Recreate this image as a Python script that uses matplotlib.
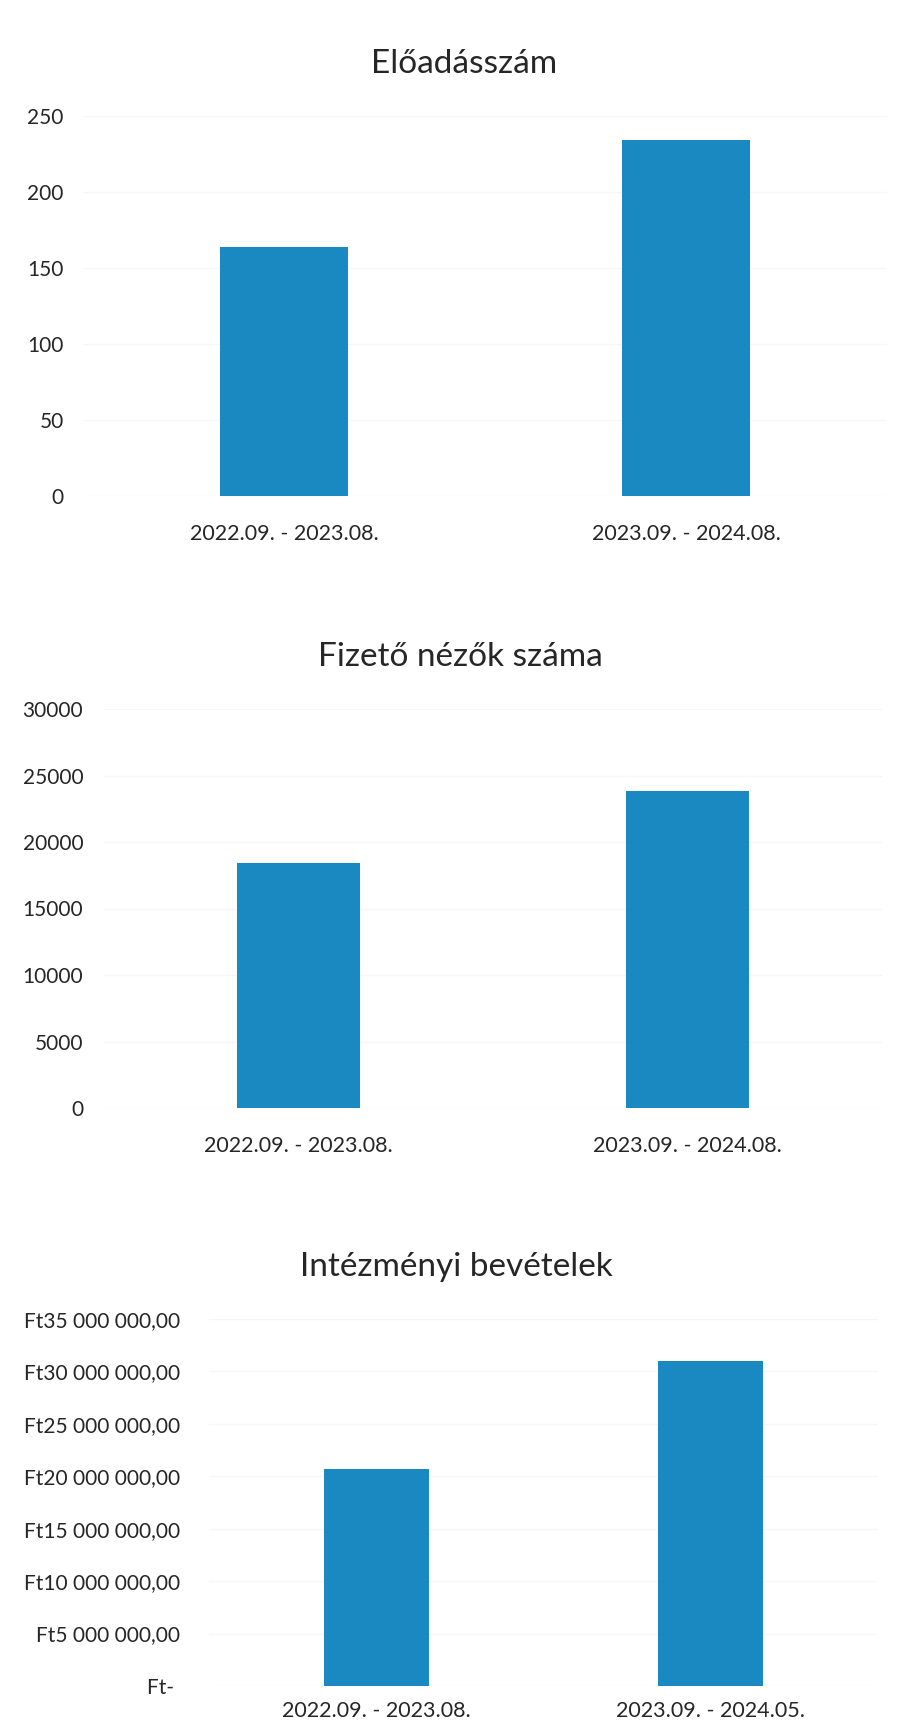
import matplotlib
matplotlib.use('Agg')
import matplotlib.pyplot as plt
from matplotlib.ticker import FuncFormatter, MultipleLocator

plt.rcParams['font.family'] = ['Lato', 'DejaVu Sans']

periods_a = ['2022.09. - 2023.08.', '2023.09. - 2024.08.']
periods_b = ['2022.09. - 2023.08.', '2023.09. - 2024.05.']

eloadasok = [164, 234]
nezok = [18400, 23800]
bevetelek = [20700000, 31000000]

BAR = '#1A88C1'
GRID = '#F6F6F6'
TXT = '#262626'
W, H = 900, 1730

fig = plt.figure(figsize=(9, 17.3), dpi=100)
fig.patch.set_facecolor('white')


def px_axes(left, right, bottom_y, top_y):
    # pixel coords (y from top) -> figure fraction
    return fig.add_axes([left / W, (H - bottom_y) / H,
                         (right - left) / W, (bottom_y - top_y) / H])


def style(ax, cats, ymax, step, ypad, xpad=20):
    ax.set_xlim(-0.5, 1.5)
    ax.set_ylim(0, ymax)
    ax.yaxis.set_major_locator(MultipleLocator(step))
    ax.set_xticks(range(len(cats)))
    ax.set_xticklabels(cats)
    for s in ax.spines.values():
        s.set_visible(False)
    ax.tick_params(axis='both', length=0, labelsize=15, colors=TXT)
    ax.tick_params(axis='y', pad=ypad)
    ax.tick_params(axis='x', pad=xpad, labelsize=15.5)
    ax.grid(axis='y', color=GRID, lw=1)
    ax.set_axisbelow(True)


# chart 1
ax1 = px_axes(83, 887, 496, 116)
ax1.bar(range(2), eloadasok, width=0.316, color=BAR)
style(ax1, periods_a, 250, 50, 14)
fig.text(464 / W, 1 - 64 / H, 'Előadásszám', ha='center', va='center',
         fontsize=24, color=TXT)

# chart 2
ax2 = px_axes(104, 882, 1108, 709)
ax2.bar(range(2), nezok, width=0.316, color=BAR)
style(ax2, periods_a, 30000, 5000, 15)
fig.text(460 / W, 1 - 657 / H, 'Fizető nézők száma', ha='center', va='center',
         fontsize=24, color=TXT)

# chart 3
def ft_fmt(v, pos):
    if v == 0:
        return 'Ft- '
    s = f'{v:,.2f}'.replace(',', ' ').replace('.', ',')
    return 'Ft' + s

ax3 = px_axes(209, 878, 1686, 1319)
ax3.bar(range(2), bevetelek, width=0.314, color=BAR)
style(ax3, periods_b, 35000000, 5000000, 21, xpad=11)
ax3.yaxis.set_major_formatter(FuncFormatter(ft_fmt))
fig.text(456 / W, 1 - 1267 / H, 'Intézményi bevételek', ha='center', va='center',
         fontsize=24, color=TXT)

fig.savefig('out.png', dpi=100, facecolor='white')
